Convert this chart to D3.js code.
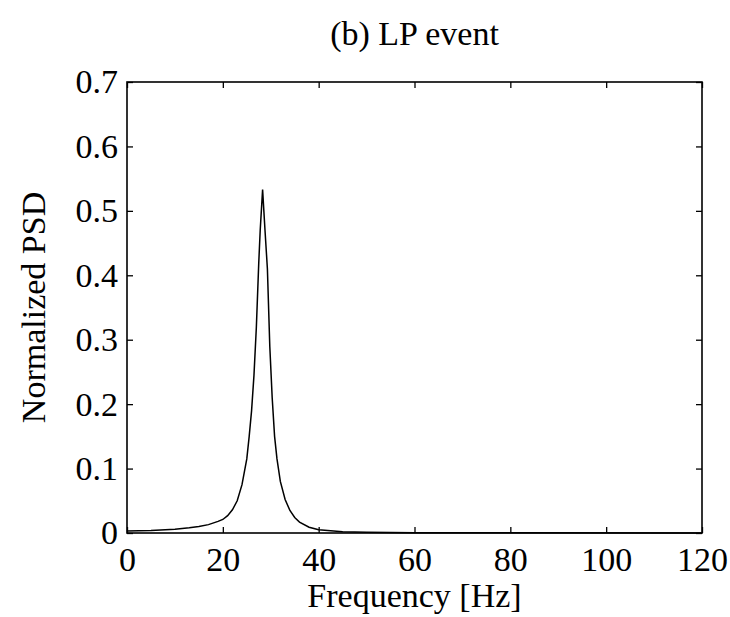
<!DOCTYPE html>
<html><head><meta charset="utf-8">
<script src="https://cdn.jsdelivr.net/npm/d3@7"></script>
<style>body{margin:0;background:#fff}svg{display:block}text{font-family:"Liberation Serif","DejaVu Serif",serif;fill:#000}</style>
</head><body>
<script>
const frequencies = [0,5,10,13,15,17,19,20,21,22,23,24,25,25.5,26,26.5,27,27.5,27.8,28.3,28.8,29.3,29.8,30.3,30.8,31.3,32,33,34,35,36,38,40,45,50,60,80,120];
const psd = [0.003,0.004,0.006,0.008,0.010,0.013,0.018,0.021,0.027,0.036,0.05,0.075,0.115,0.15,0.19,0.245,0.32,0.42,0.47,0.533,0.47,0.41,0.29,0.21,0.15,0.115,0.08,0.052,0.035,0.024,0.017,0.009,0.005,0.002,0.001,0.0004,0.0002,0.0001];
const xTicks = [0,20,40,60,80,100,120];
const yTicks = [0,0.1,0.2,0.3,0.4,0.5,0.6,0.7];
const titleText = "(b) LP event";
const xLabel = "Frequency [Hz]";
const yLabel = "Normalized PSD";

const W=730,H=617, L=127,R=702,T=82,B=533;
const svg=d3.select("body").append("svg").attr("width",W).attr("height",H);
const x=d3.scaleLinear().domain([0,120]).range([L,R]);
const y=d3.scaleLinear().domain([0,0.7]).range([B,T]);
const fs=34;

svg.append("g").attr("transform",`translate(0,${B})`)
  .call(d3.axisBottom(x).tickValues(xTicks).tickSize(-6).tickPadding(15).tickFormat(d3.format("d")))
  .call(g=>{g.select(".domain").remove();g.selectAll("text").attr("font-size",fs).attr("dy","0.68em");});
svg.append("g").attr("transform",`translate(0,${T})`)
  .call(d3.axisTop(x).tickValues(xTicks).tickSize(-6).tickFormat(""))
  .call(g=>g.select(".domain").remove());
svg.append("g").attr("transform",`translate(${L},0)`)
  .call(d3.axisLeft(y).tickValues(yTicks).tickSize(-6).tickPadding(9).tickFormat(d=>d===0?"0":d3.format(".1f")(d)))
  .call(g=>{g.select(".domain").remove();g.selectAll("text").attr("font-size",fs);});
svg.append("g").attr("transform",`translate(${R},0)`)
  .call(d3.axisRight(y).tickValues(yTicks).tickSize(-6).tickFormat(""))
  .call(g=>g.select(".domain").remove());
svg.selectAll(".tick line").attr("stroke","#000").attr("stroke-width",1.3);

svg.append("rect").attr("x",L).attr("y",T).attr("width",R-L).attr("height",B-T)
  .attr("fill","none").attr("stroke","#000").attr("stroke-width",1.6);

const line=d3.line().x((d,i)=>x(frequencies[i])).y(d=>y(d));
svg.append("path").datum(psd).attr("d",line).attr("fill","none").attr("stroke","#000").attr("stroke-width",1.5);

svg.append("text").attr("x",(L+R)/2).attr("y",45).attr("text-anchor","middle").attr("font-size",fs).text(titleText);
svg.append("text").attr("x",(L+R)/2).attr("y",607).attr("text-anchor","middle").attr("font-size",fs).text(xLabel);
svg.append("text").attr("transform",`translate(45,${(T+B)/2}) rotate(-90)`).attr("text-anchor","middle").attr("font-size",fs).text(yLabel);
</script>
</body></html>
